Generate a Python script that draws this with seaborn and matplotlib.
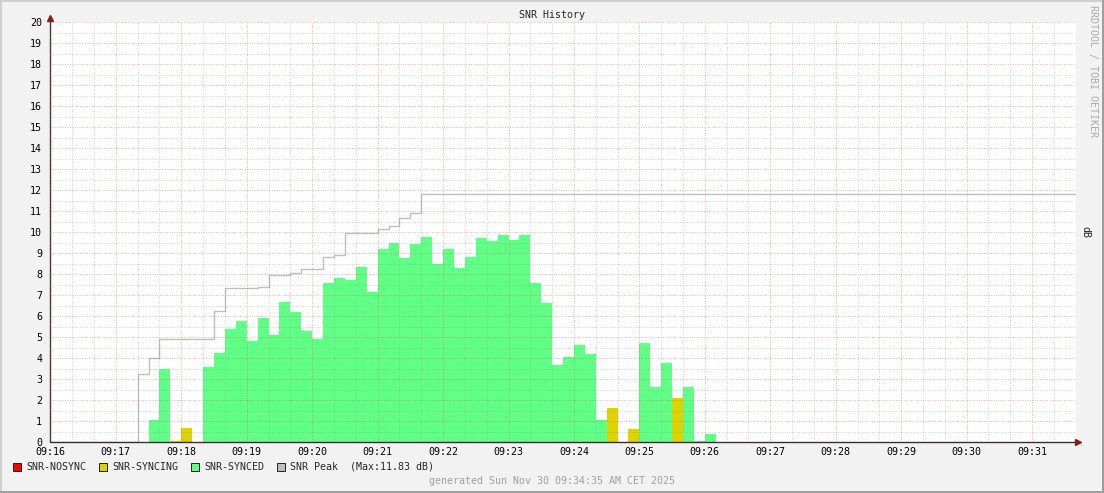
import numpy as np
import pandas as pd
import matplotlib
matplotlib.use("Agg")
import matplotlib.pyplot as plt
from matplotlib.patches import Rectangle
from matplotlib.lines import Line2D
import seaborn as sns

# time axis: seconds after 09:16:00, data in 10 s steps
synced_t = [90, 100,
            140, 150, 160, 170, 180, 190, 200, 210, 220, 230, 240, 250, 260, 270,
            280, 290, 300, 310, 320, 330, 340, 350, 360, 370, 380, 390, 400, 410,
            420, 430, 440, 450, 460, 470, 480, 490, 500,
            540, 550, 560, 580, 590, 600]
synced_snr = [1.05, 3.48,
              3.57, 4.24, 5.38, 5.76, 4.83, 5.89, 5.10, 6.65, 6.19, 5.29, 4.90, 7.57, 7.81, 7.71,
              8.33, 7.14, 9.21, 9.48, 8.78, 9.43, 9.76, 8.48, 9.19, 8.29, 8.81, 9.71, 9.57, 9.86,
              9.62, 9.86, 7.57, 6.62, 3.67, 4.05, 4.62, 4.19, 1.05,
              4.71, 2.62, 3.76, 2.62, 0.05, 0.38]
syncing_t = [110, 120, 510, 530, 570]
syncing_snr = [0.06, 0.67, 1.62, 0.62, 2.10]

# SNR peak (step line, value holds until next change)
peak_t = [0, 80, 90, 100, 150, 160, 190, 200, 220, 230, 250, 260, 270, 300, 310, 320, 330, 340, 940]
peak_snr = [0, 3.24, 3.98, 4.89, 6.22, 7.32, 7.37, 7.95, 8.03, 8.22, 8.81, 8.90, 9.94, 10.13, 10.27,
            10.65, 10.89, 11.83, 11.83]

tick_labels = ["09:16", "09:17", "09:18", "09:19", "09:20", "09:21", "09:22", "09:23",
               "09:24", "09:25", "09:26", "09:27", "09:28", "09:29", "09:30", "09:31"]
legend_labels = ["SNR-NOSYNC", "SNR-SYNCING", "SNR-SYNCED", "SNR Peak  (Max:11.83 dB)"]

GREEN = "#60FF86"
YELLOW = "#DDD300"
RED = "#FF0000"
PEAK = "#BEBEBE"
BACK = "#F2F2F2"
AXIS = "#3a3030"
ARROW = "#7f1f1f"

sns.set_style("white")
plt.rcParams["font.family"] = ["DejaVu Sans Mono"]
plt.rcParams["font.size"] = 7.2

W, H = 1104, 493
fig = plt.figure(figsize=(W / 100, H / 100), dpi=100, facecolor=BACK)

# plot area in pixels
x0, x1, y_top, y_bot = 50.4, 1075.7, 22, 442
ax = fig.add_axes([x0 / W, (H - y_bot) / H, (x1 - x0) / W, (y_bot - y_top) / H])
ax.set_facecolor("white")

df_sync = pd.DataFrame({"t": synced_t, "snr": synced_snr})
df_syncing = pd.DataFrame({"t": syncing_t, "snr": syncing_snr})
xmax = 940

sns.histplot(data=df_sync, x="t", weights="snr", binwidth=10, binrange=(0, xmax),
             element="step", fill=True, color=GREEN, alpha=1, linewidth=0, ax=ax)
sns.histplot(data=df_syncing, x="t", weights="snr", binwidth=10, binrange=(0, xmax),
             element="step", fill=True, color=YELLOW, alpha=1, linewidth=0, ax=ax)
sns.lineplot(x=peak_t, y=peak_snr, drawstyle="steps-post", color=PEAK, lw=1.0, ax=ax)

ax.set_xlim(0, xmax)
ax.set_ylim(0, 20)
ax.set_xlabel("")
ax.set_ylabel("")

ax.set_xticks(np.arange(0, 901, 60))
ax.set_xticklabels(tick_labels)
ax.set_xticks(np.arange(0, xmax, 20), minor=True)
ax.set_yticks(np.arange(0, 21, 1))
ax.set_yticklabels([str(v) for v in range(21)])
ax.set_yticks(np.arange(0, 20.01, 0.5), minor=True)

ax.set_axisbelow(False)
ax.grid(which="minor", color="#8c8c8c", alpha=0.4, linestyle=(0, (1, 1.5)), linewidth=0.7)
ax.grid(which="major", color="#dd4f4f", alpha=0.45, linestyle=(0, (1, 1.5)), linewidth=0.7)
ax.tick_params(axis="both", which="both", direction="out", length=2, width=0.7, color=AXIS,
               labelsize=7.2, labelcolor="black")
ax.tick_params(axis="x", which="major", pad=1.8)
ax.tick_params(axis="y", which="major", pad=4)

for s in ax.spines.values():
    s.set_visible(False)

# axis lines with arrows (rrdtool style)
ext_y = 1 + 4 / (y_bot - y_top)
ext_x = 1 + 2.5 / (x1 - x0)
ax.add_line(Line2D([0, 0], [0, ext_y], transform=ax.transAxes, color=AXIS, lw=1, clip_on=False))
ax.add_line(Line2D([0, ext_x], [0, 0], transform=ax.transAxes, color=AXIS, lw=1, clip_on=False))
ax.plot([0], [ext_y], marker="^", markersize=4, color=ARROW, transform=ax.transAxes, clip_on=False)
ax.plot([ext_x], [0], marker=">", markersize=4, color=ARROW, transform=ax.transAxes, clip_on=False)

# texts
fig.text(552 / W, 1 - 15.5 / H, "SNR History", ha="center", va="center")
fig.text(1093 / W, 1 - 71 / H, "RRDTOOL / TOBI OETIKER", rotation=270, ha="center", va="center",
         color="#aaaaaa")
fig.text(1085 / W, 1 - 232.5 / H, "dB", rotation=270, ha="center", va="center")
fig.text(552 / W, 1 - 481 / H, "generated Sun Nov 30 09:34:35 AM CET 2025", ha="center", va="center",
         color="#a0a0a0")

# legend
leg_colors = [RED, YELLOW, GREEN, PEAK]
leg_box_x = [13.4, 99, 191, 277]
leg_y = 466.5
for lbl, c, bx in zip(legend_labels, leg_colors, leg_box_x):
    fig.add_artist(Rectangle((bx / W, 1 - (leg_y + 4) / H), 8 / W, 8 / H, transform=fig.transFigure,
                             facecolor=c, edgecolor="#222222", linewidth=0.7))
    fig.text((bx + 13) / W, 1 - leg_y / H, lbl, ha="left", va="center")

# frame shading
fig.add_artist(Rectangle((0, 1 - 2 / H), 1, 2 / H, transform=fig.transFigure, color="#cfcfcf", lw=0))
fig.add_artist(Rectangle((0, 0), 2 / W, 1, transform=fig.transFigure, color="#cfcfcf", lw=0))
fig.add_artist(Rectangle((0, 0), 1, 2 / H, transform=fig.transFigure, color="#9e9e9e", lw=0))
fig.add_artist(Rectangle((1 - 2 / W, 0), 2 / W, 1, transform=fig.transFigure, color="#9e9e9e", lw=0))

fig.savefig("out.png", dpi=100, facecolor=BACK)
